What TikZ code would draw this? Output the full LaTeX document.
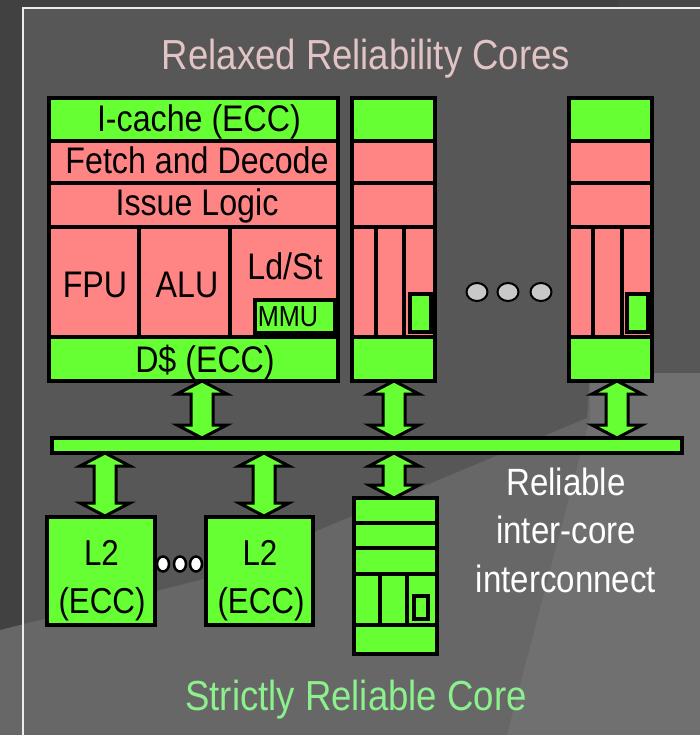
\documentclass[tikz,border=0pt]{standalone}
\usepackage{fontspec}
\setmainfont[FakeStretch=0.87]{Liberation Sans}
\usetikzlibrary{shapes.geometric,calc}
\definecolor{cgreen}{HTML}{66FF33}
\definecolor{cpink}{HTML}{FF8585}
\definecolor{bgout}{HTML}{414141}
\definecolor{bgpanel}{HTML}{575757}
\definecolor{bglight}{HTML}{676767}
\definecolor{bglighter}{HTML}{707070}
\definecolor{ctitle}{HTML}{E2C4C4}
\definecolor{cstrict}{HTML}{8CF08C}
\definecolor{cdot}{HTML}{C8C8C8}
\tikzset{
  gbox/.style={draw=black, fill=cgreen, line width=3.5pt, rectangle, inner sep=0pt, outer sep=0pt},
  pbox/.style={draw=black, fill=cpink, line width=3.5pt, rectangle, inner sep=0pt, outer sep=0pt},
  lbl/.style={anchor=base, inner sep=0pt, text=black, font=\fontsize{37}{40}\selectfont},
  dblarr/.style={draw=black, fill=cgreen, line width=3pt, line join=miter},
  graydot/.style={ellipse, draw=black, fill=cdot, line width=2pt, minimum width=21pt, minimum height=18pt, inner sep=0pt},
  whitedot/.style={ellipse, draw=black, fill=white, line width=2.5pt, minimum width=12pt, minimum height=15pt, inner sep=0pt},
}
\newcommand\blk[6]{\node[#1, minimum width={(#4-#2)*1pt}, minimum height={(#5-#3)*1pt}] (#6) at ({(#2+#4)/2},{(#3+#5)/2}) {};}
\newcommand\dbarrow[2]{%
  \draw[dblarr] let \p1=(#1), \p2=(#2) in
    (\x1,\y1) -- (\x1+25pt,\y1-13pt) -- (\x1+11pt,\y1-13pt) -- (\x1+11pt,\y2+13pt) -- (\x1+25pt,\y2+13pt)
    -- (\x1,\y2) -- (\x1-25pt,\y2+13pt) -- (\x1-11pt,\y2+13pt) -- (\x1-11pt,\y1-13pt) -- (\x1-25pt,\y1-13pt) -- cycle;}
\begin{document}
\begin{tikzpicture}[x=1pt,y=-1pt]
\useasboundingbox (0,0) rectangle (700,735);
% background
\fill[bgout] (0,0) rectangle (700,735);
\fill[bgout!80!bgpanel] (618,0) rectangle (700,8);
\fill[bgpanel] (23,8) rectangle (700,735);
\fill[bglight] (0,630) -- (200,580) -- (350,517) -- (587,418) -- (590,373) -- (700,373) -- (700,735) -- (0,735) -- cycle;
\fill[bglighter] (507,735) -- (590,418) -- (590,373) -- (700,373) -- (700,735) -- cycle;
\draw[white!85!gray, line width=2pt] (23,735) -- (23,8) -- (700,8);

% titles
\node[anchor=base, inner sep=0pt, text=ctitle, font=\fontsize{42}{46}\selectfont] (title) at (366,70) {Relaxed Reliability Cores};
\node[anchor=base, inner sep=0pt, text=cstrict, font=\fontsize{42}{46}\selectfont] (strict) at (356,710) {Strictly Reliable Core};
\node[anchor=base, inner sep=0pt, text=white, font=\fontsize{38}{42}\selectfont] (ic1) at (566,495) {Reliable};
\node[anchor=base, inner sep=0pt, text=white, font=\fontsize{38}{42}\selectfont] (ic2) at (566,543) {inter-core};
\node[anchor=base, inner sep=0pt, text=white, font=\fontsize{38}{42}\selectfont] (ic3) at (566,592) {interconnect};

% core 1
\blk{gbox}{49}{98}{338}{141}{aI}
\blk{pbox}{49}{141}{338}{183}{aF}
\blk{pbox}{49}{183}{338}{227}{aS}
\blk{pbox}{49}{227}{139}{337}{aFPU}
\blk{pbox}{139}{227}{230}{337}{aALU}
\blk{pbox}{230}{227}{338}{337}{aLS}
\blk{gbox}{255}{300}{335}{333}{aMMU}
\blk{gbox}{49}{337}{338}{381}{aD}
\node[lbl] (tI) at (199,132) {I-cache (ECC)};
\node[lbl] (tF) at (197,174) {Fetch and Decode};
\node[lbl] (tS) at (197,215) {Issue Logic};
\node[lbl] (tFPU) at (95,297) {FPU};
\node[lbl] (tALU) at (187,297) {ALU};
\node[lbl] (tLS) at (285,279) {Ld/St};
\node[lbl, font=\fontsize{29}{32}\selectfont] (tMMU) at (288,326) {MMU};
\node[lbl] (tD) at (205,372) {D\$ (ECC)};

% core 2
\blk{gbox}{352}{98}{435}{141}{bI}
\blk{pbox}{352}{141}{435}{183}{bF}
\blk{pbox}{352}{183}{435}{227}{bS}
\blk{pbox}{352}{227}{376}{337}{bU1}
\blk{pbox}{376}{227}{404}{337}{bU2}
\blk{pbox}{404}{227}{435}{337}{bU3}
\blk{gbox}{410}{294}{431}{332}{bM}
\blk{gbox}{352}{337}{435}{381}{bD}

% core 3
\blk{gbox}{569}{98}{652}{141}{cI}
\blk{pbox}{569}{141}{652}{183}{cF}
\blk{pbox}{569}{183}{652}{227}{cS}
\blk{pbox}{569}{227}{593}{337}{cU1}
\blk{pbox}{593}{227}{622}{337}{cU2}
\blk{pbox}{622}{227}{652}{337}{cU3}
\blk{gbox}{627}{294}{648}{332}{cM}
\blk{gbox}{569}{337}{652}{381}{cD}

% dots
\node[graydot] (g1) at (477,292) {};
\node[graydot] (g2) at (508,292) {};
\node[graydot] (g3) at (541,292) {};

% bus
\blk{gbox}{52}{438}{682}{453}{bus}

% L2
\blk{gbox}{47}{517}{155}{625}{L2a}
\blk{gbox}{206}{517}{313}{625}{L2b}
\node[lbl, font=\fontsize{36}{40}\selectfont] (tL2a) at (101.5,565) {L2};
\node[lbl, font=\fontsize{36}{40}\selectfont] (tE2a) at (102,613) {(ECC)};
\node[lbl, font=\fontsize{36}{40}\selectfont] (tL2b) at (260,565) {L2};
\node[lbl, font=\fontsize{36}{40}\selectfont] (tE2b) at (261,613) {(ECC)};
\node[whitedot] (w1) at (163,564) {};
\node[whitedot] (w2) at (180,564) {};
\node[whitedot] (w3) at (196,564) {};

% strict core
\blk{gbox}{354}{498}{437}{523}{sI}
\blk{gbox}{354}{523}{437}{548}{sF}
\blk{gbox}{354}{548}{437}{574}{sS}
\blk{gbox}{354}{574}{380}{625}{sU1}
\blk{gbox}{380}{574}{407}{625}{sU2}
\blk{gbox}{407}{574}{437}{625}{sU3}
\blk{gbox}{414}{596}{428}{619}{sM}
\blk{gbox}{354}{625}{437}{654}{sD}

% arrows
\coordinate (a1t) at (202,381); \coordinate (a1b) at (202,438);
\coordinate (a2t) at (394,381); \coordinate (a2b) at (394,438);
\coordinate (a3t) at (617,381); \coordinate (a3b) at (617,438);
\coordinate (l1t) at (105,453); \coordinate (l1b) at (105,516);
\coordinate (l2t) at (264,453); \coordinate (l2b) at (264,516);
\coordinate (l3t) at (394,453); \coordinate (l3b) at (394,498);
\dbarrow{a1t}{a1b}
\dbarrow{a2t}{a2b}
\dbarrow{a3t}{a3b}
\dbarrow{l1t}{l1b}
\dbarrow{l2t}{l2b}
\dbarrow{l3t}{l3b}
\end{tikzpicture}
\end{document}
